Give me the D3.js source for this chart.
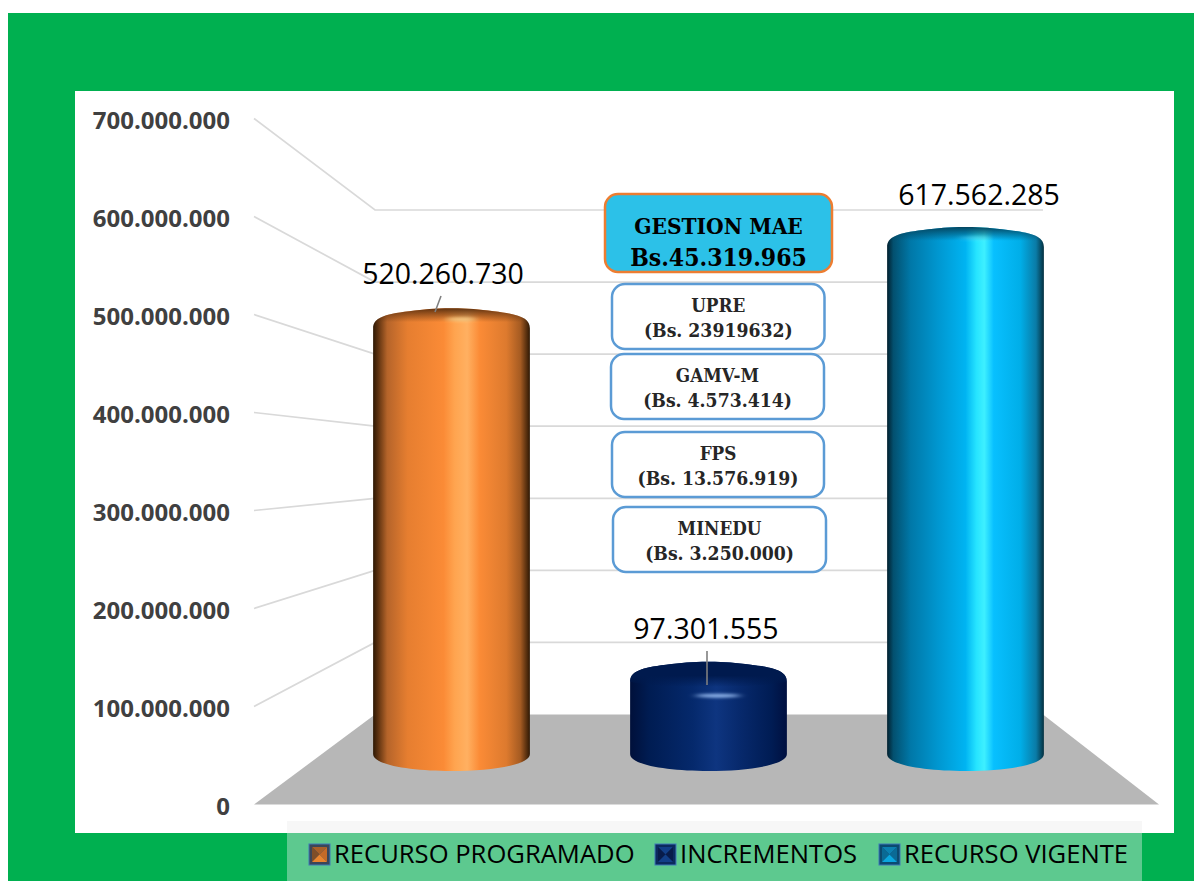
<!DOCTYPE html>
<html>

<head>
    <meta charset="UTF-8">
    <title>Recursos</title>
    <style>
        html, body { margin: 0; padding: 0; background: #fff; }
        svg { display: block; }
    </style>
</head>

<body>

    <svg id="chart"></svg>

    <script src="https://d3js.org/d3.v7.min.js"></script>
    <script>
        // data
        const categories = ['RECURSO PROGRAMADO', 'INCREMENTOS', 'RECURSO VIGENTE'];
        const values = [520260730, 97301555, 617562285];
        const yTicks = [0, 100000000, 200000000, 300000000, 400000000, 500000000, 600000000, 700000000];
        const noteTitles = ['GESTION MAE', 'UPRE', 'GAMV-M', 'FPS', 'MINEDU'];
        const noteAmounts = ['Bs.45.319.965', '(Bs. 23919632)', '(Bs. 4.573.414)', '(Bs. 13.576.919)', '(Bs. 3.250.000)'];

        const width = 1194;
        const height = 881;

        const svg = d3.select('#chart')
            .attr('width', width)
            .attr('height', height);
        const defs = svg.append('defs');

        const fmt = d3.formatLocale({ decimal: ',', thousands: '.', grouping: [3], currency: ['', ''] }).format(',');

        // scales: front edge of the side wall, back wall, and bar tops
        const yFront = d3.scaleLinear().domain([0, 700000000]).range([804.5, 118.5]);
        const yBack = d3.scaleLinear().domain([0, 700000000]).range([714.5, 210]);
        const yBar = d3.scaleLinear().domain([0, 700000000]).range([743, 158]);
        const x = d3.scaleBand().domain(categories).range([323, 1094]).paddingInner(0.39).paddingOuter(0.195);

        const barBottom = 771;
        const wallX = 375;
        const backEnd = 1043;

        // background
        svg.append('rect').attr('x', 8).attr('y', 13).attr('width', width - 8).attr('height', height - 13).attr('fill', '#00B050');
        svg.append('rect').attr('x', 75).attr('y', 91).attr('width', 1099).attr('height', 742).attr('fill', '#fff');

        // floor
        svg.append('polygon')
            .attr('points', [[254, yFront(0)], [wallX, yBack(0)], [backEnd, yBack(0)], [1159, yFront(0)]].join(' '))
            .attr('fill', '#B7B7B7');

        // grid lines, bent at the wall corner
        svg.append('g')
            .selectAll('polyline')
            .data(yTicks.slice(1))
            .enter()
            .append('polyline')
            .attr('points', d => [[254, yFront(d)], [wallX, yBack(d)], [backEnd, yBack(d)]].join(' '))
            .attr('fill', 'none')
            .attr('stroke', '#D9D9D9')
            .attr('stroke-width', 1.7);

        // axis
        const axis = svg.append('g')
            .attr('transform', 'translate(254,2)')
            .call(d3.axisLeft(yFront).tickValues(yTicks).tickFormat(fmt).tickSize(0).tickPadding(24));
        axis.select('.domain').remove();
        axis.selectAll('text')
            .attr('font-family', '"Open Sans"')
            .attr('font-weight', 700)
            .attr('font-size', 24)
            .attr('fill', '#404040');

        // bars
        const barStyles = [
            {
                stops: [[0, '#2e1804'], [3, '#5a300f'], [9, '#b5642a'], [22, '#e67e30'], [45, '#fb8b36'], [52, '#ffa44f'], [60, '#ffb061'], [68, '#fb8b36'], [85, '#dd7a2e'], [94, '#a55b22'], [100, '#2e1804']],
                rim: '#5f3210', specular: '#ffe09a', specularOpacity: 0.7, capEnd: 0
            },
            {
                stops: [[0, '#00103a'], [12, '#001c52'], [40, '#05296c'], [55, '#0e3580'], [70, '#07296c'], [90, '#001c54'], [100, '#001040']],
                rim: '#001a4e', specular: '#8fb4ea', specularOpacity: 1, capEnd: 0.55
            },
            {
                stops: [[0, '#02202e'], [4, '#03506f'], [15, '#0078a8'], [32, '#0096cf'], [50, '#00b4f2'], [57, '#26e4ff'], [62, '#3ef0ff'], [68, '#08c0ff'], [85, '#00aee8'], [95, '#0a7ba6'], [100, '#04303f']],
                rim: '#04445e', specular: '#7ff0ff', specularOpacity: 0.35, capEnd: 0
            }
        ];

        barStyles.forEach((s, i) => {
            const side = defs.append('linearGradient').attr('id', 'side' + i);
            s.stops.forEach(p => side.append('stop').attr('offset', p[0] + '%').attr('stop-color', p[1]));

            const cap = defs.append('linearGradient').attr('id', 'cap' + i)
                .attr('x1', 0).attr('y1', 0).attr('x2', 0).attr('y2', 1);
            cap.append('stop').attr('offset', '0%').attr('stop-color', s.rim).attr('stop-opacity', 1);
            cap.append('stop').attr('offset', (s.capEnd * 100) + '%').attr('stop-color', s.rim).attr('stop-opacity', 1);
            cap.append('stop').attr('offset', s.capEnd ? '100%' : '55%').attr('stop-color', s.rim).attr('stop-opacity', 0);
        });

        defs.append('filter').attr('id', 'soft')
            .attr('x', '-50%').attr('y', '-100%').attr('width', '200%').attr('height', '300%')
            .append('feGaussianBlur').attr('stdDeviation', '4 1.5');

        // rounded shoulder, shared by the bar body and its cap
        function topEdge(x0, x1, top) {
            const cx = (x0 + x1) / 2;
            return 'M' + x0 + ',' + (top + 20)
                + 'C' + x0 + ',' + (top + 10) + ' ' + (x0 + 10) + ',' + (top + 6) + ' ' + (x0 + 36) + ',' + (top + 3)
                + 'C' + (x0 + 52) + ',' + (top + 1) + ' ' + (cx - 18) + ',' + top + ' ' + cx + ',' + top
                + 'C' + (cx + 18) + ',' + top + ' ' + (x1 - 52) + ',' + (top + 1) + ' ' + (x1 - 36) + ',' + (top + 3)
                + 'C' + (x1 - 10) + ',' + (top + 6) + ' ' + x1 + ',' + (top + 10) + ' ' + x1 + ',' + (top + 20);
        }

        function bodyPath(x0, x1, top) {
            const cx = (x0 + x1) / 2;
            return topEdge(x0, x1, top)
                + 'L' + x1 + ',' + (barBottom - 17)
                + 'C' + x1 + ',' + (barBottom - 6) + ' ' + (x1 - 38) + ',' + barBottom + ' ' + cx + ',' + barBottom
                + 'C' + (x0 + 38) + ',' + barBottom + ' ' + x0 + ',' + (barBottom - 6) + ' ' + x0 + ',' + (barBottom - 17)
                + 'Z';
        }

        function capPath(x0, x1, top) {
            return topEdge(x0, x1, top)
                + 'C' + (x1 - 30) + ',' + (top + 27) + ' ' + (x0 + 30) + ',' + (top + 27) + ' ' + x0 + ',' + (top + 20)
                + 'Z';
        }

        const bars = svg.append('g')
            .selectAll('g')
            .data(categories)
            .enter()
            .append('g');

        bars.append('path')
            .attr('d', (d, i) => bodyPath(x(d), x(d) + x.bandwidth(), yBar(values[i])))
            .attr('fill', (d, i) => 'url(#side' + i + ')');

        bars.append('path')
            .attr('d', (d, i) => capPath(x(d), x(d) + x.bandwidth(), yBar(values[i])))
            .attr('fill', (d, i) => 'url(#cap' + i + ')');

        bars.append('ellipse')
            .attr('cx', d => x(d) + x.bandwidth() * 0.56)
            .attr('cy', (d, i) => yBar(values[i]) + (i === 1 ? 34 : 11))
            .attr('rx', (d, i) => i === 1 ? 22 : 15)
            .attr('ry', 2)
            .attr('fill', (d, i) => barStyles[i].specular)
            .attr('opacity', (d, i) => barStyles[i].specularOpacity)
            .attr('filter', 'url(#soft)');

        // value labels and leader lines
        const labelAt = [[443, 284], [706, 639], [979, 205]];
        const leaders = [[[441, 296], [435, 312]], [[707, 651], [707, 685]], null];

        svg.append('g')
            .selectAll('line')
            .data(leaders.filter(d => d))
            .enter()
            .append('line')
            .attr('x1', d => d[0][0]).attr('y1', d => d[0][1])
            .attr('x2', d => d[1][0]).attr('y2', d => d[1][1])
            .attr('stroke', '#7F7F7F')
            .attr('stroke-width', 1.6);

        svg.append('g')
            .selectAll('text')
            .data(values)
            .enter()
            .append('text')
            .attr('x', (d, i) => labelAt[i][0])
            .attr('y', (d, i) => labelAt[i][1])
            .attr('text-anchor', 'middle')
            .attr('font-family', '"Open Sans"')
            .attr('font-size', 28.5)
            .attr('fill', '#000')
            .text(d => fmt(d));

        // note boxes
        const noteBoxes = [[605, 194, 227, 78], [612, 284, 212.5, 65], [611, 354, 213, 65], [612, 432, 212, 65], [613, 507, 213, 65]];

        const notes = svg.append('g')
            .selectAll('g')
            .data(noteTitles)
            .enter()
            .append('g');

        notes.append('rect')
            .attr('x', (d, i) => noteBoxes[i][0])
            .attr('y', (d, i) => noteBoxes[i][1])
            .attr('width', (d, i) => noteBoxes[i][2])
            .attr('height', (d, i) => noteBoxes[i][3])
            .attr('rx', 13)
            .attr('fill', (d, i) => i === 0 ? '#2CC1E8' : '#fff')
            .attr('stroke', (d, i) => i === 0 ? '#ED7D31' : '#5B9BD5')
            .attr('stroke-width', 2.5);

        notes.append('text')
            .attr('x', (d, i) => noteBoxes[i][0] + noteBoxes[i][2] / 2)
            .attr('y', (d, i) => noteBoxes[i][1] + (i === 0 ? 40 : 28))
            .attr('text-anchor', 'middle')
            .attr('font-family', '"DejaVu Serif Condensed", "DejaVu Serif"')
            .attr('font-weight', 700)
            .attr('font-size', (d, i) => i === 0 ? 22.5 : 18.7)
            .attr('fill', (d, i) => i === 0 ? '#000' : '#262626')
            .text(d => d);

        notes.append('text')
            .attr('x', (d, i) => noteBoxes[i][0] + noteBoxes[i][2] / 2)
            .attr('y', (d, i) => noteBoxes[i][1] + (i === 0 ? 72 : 53))
            .attr('text-anchor', 'middle')
            .attr('font-family', '"DejaVu Serif Condensed", "DejaVu Serif"')
            .attr('font-weight', 700)
            .attr('font-size', (d, i) => i === 0 ? 24.5 : 19.2)
            .attr('fill', (d, i) => i === 0 ? '#000' : '#262626')
            .text((d, i) => noteAmounts[i]);

        // legend
        svg.append('rect').attr('x', 287).attr('y', 821).attr('width', 855).attr('height', 12).attr('fill', '#F7F7F7');
        svg.append('rect').attr('x', 287).attr('y', 833).attr('width', 855).attr('height', 48).attr('fill', '#5DC98F');

        const legendX = [309, 655, 879];
        const markerShades = [
            { ring: '#3b4658', top: '#a8602a', left: '#7f4e28', right: '#c46a28', low: '#e8842f' },
            { ring: '#0b2a5e', top: '#123f88', left: '#081c4a', right: '#081c4a', low: '#123f88' },
            { ring: '#0b4a70', top: '#0c80b0', left: '#0a6a95', right: '#0a6a95', low: '#0aa6de' }
        ];

        const legend = svg.append('g')
            .selectAll('g')
            .data(categories)
            .enter()
            .append('g')
            .attr('transform', (d, i) => 'translate(' + legendX[i] + ',844)');

        legend.append('rect')
            .attr('width', 21).attr('height', 21)
            .attr('fill', (d, i) => markerShades[i].ring)
            .attr('stroke', '#3F78B8').attr('stroke-width', 1);
        legend.append('polygon').attr('points', '3,3 18,3 10.5,10.5').attr('fill', (d, i) => markerShades[i].top);
        legend.append('polygon').attr('points', '3,3 3,18 10.5,10.5').attr('fill', (d, i) => markerShades[i].left);
        legend.append('polygon').attr('points', '18,3 18,18 10.5,10.5').attr('fill', (d, i) => markerShades[i].right);
        legend.append('polygon').attr('points', '3,18 18,18 10.5,10.5').attr('fill', (d, i) => markerShades[i].low);

        legend.append('text')
            .attr('x', 25)
            .attr('y', 19)
            .attr('font-family', '"Open Sans"')
            .attr('font-size', 25.6)
            .attr('fill', '#000')
            .text(d => d);
    </script>
</body>

</html>
